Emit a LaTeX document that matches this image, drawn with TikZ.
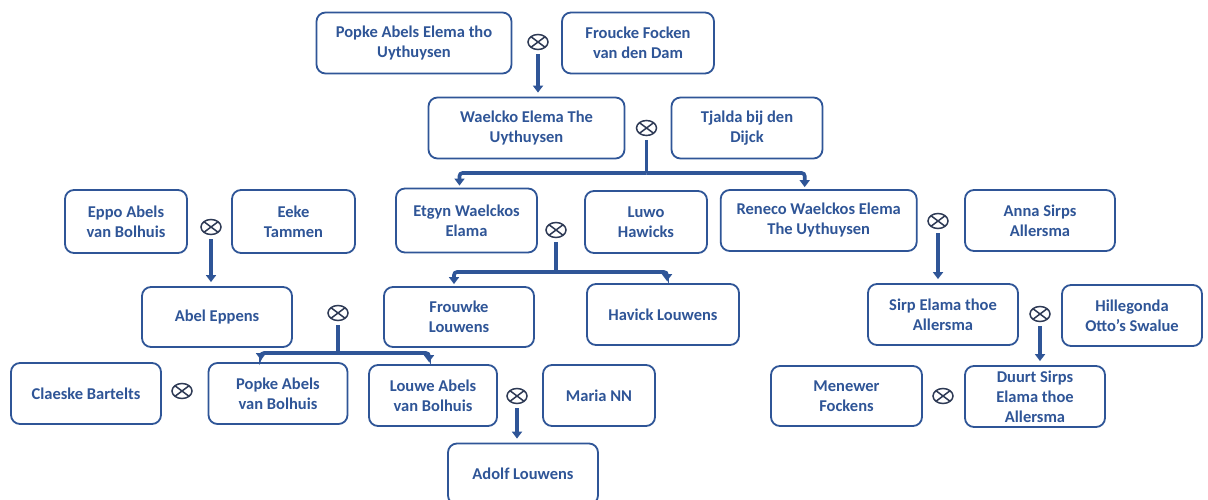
\documentclass[tikz,border=0pt]{standalone}
\usepackage{fontspec}
\setmainfont{Carlito}
\usetikzlibrary{arrows.meta, calc, positioning, shapes.geometric}
\definecolor{famblue}{HTML}{2F5597}
\definecolor{ringgray}{HTML}{2E3A55}

\begin{document}
\begin{tikzpicture}[x=1pt, y=-1pt,
  person/.style={draw=famblue, line width=1.8pt, rounded corners=9pt, align=center, text=famblue,
    font=\fontsize{16.5}{20}\selectfont\bfseries, minimum height=61pt, inner sep=1pt},
  wed/.style={ellipse, draw=ringgray, line width=1.5pt, minimum width=20pt, minimum height=15pt, inner sep=0pt,
    path picture={\draw[ringgray, line width=1.5pt]
      (path picture bounding box.north west) -- (path picture bounding box.south east)
      (path picture bounding box.north east) -- (path picture bounding box.south west);}},
  child/.style={draw=famblue, line width=3.6pt, -{Triangle[width=10pt,length=7pt]}, shorten <=4pt, shorten >=4pt},
  bar/.style={draw=famblue, line width=3.6pt, shorten <=4pt},
  drop/.style={draw=famblue, line width=3.6pt, rounded corners=3pt, -{Triangle[width=10pt,length=7pt]}, shorten >=2pt}]
\useasboundingbox[fill=white] (0,0) rectangle (1208,500);
% Nodes
\node (popke) [person, minimum width=195pt] at (414,43) {Popke Abels Elema tho\\Uythuysen};
\node (froucke) [person, minimum width=152pt] at (638,43) {Froucke Focken\\van den Dam};
\node (waelcko) [person, minimum width=196pt] at (526.5,128) {Waelcko Elema The\\Uythuysen};
\node (tjalda) [person, minimum width=151pt] at (747,128) {Tjalda bij den\\Dijck};
\node (eppo) [person, minimum width=122pt, minimum height=63pt] at (126,221.5) {Eppo Abels\\van Bolhuis};
\node (eeke) [person, minimum width=123pt, minimum height=63pt] at (293.5,221.5) {Eeke\\Tammen};
\node (etgyn) [person, minimum width=141pt, minimum height=64pt] at (466.5,220.5) {Etgyn Waelckos\\Elama};
\node (luwo) [person, minimum width=122pt, minimum height=62pt] at (646,222) {Luwo\\Hawicks};
\node (reneco) [person, minimum width=196pt] at (818.7,220.5) {Reneco Waelckos Elema\\The Uythuysen};
\node (anna) [person, minimum width=150pt] at (1040,220.5) {Anna Sirps\\Allersma};
\node (abel) [person, minimum width=150pt, minimum height=60pt] at (217,317) {Abel Eppens};
\node (frouwke) [person, minimum width=150pt, minimum height=60pt] at (459,317) {Frouwke\\Louwens};
\node (havick) [person, minimum width=152pt] at (663,314.5) {Havick Louwens};
\node (sirp) [person, minimum width=150pt] at (943,314.5) {Sirp Elama thoe\\Allersma};
\node (hillegonda) [person, minimum width=140pt] at (1132,315.5) {Hillegonda\\Otto’s Swalue};
\node (claeske) [person, minimum width=150pt] at (86,393.5) {Claeske Bartelts};
\node (popkeb) [person, minimum width=139pt] at (278,393.5) {Popke Abels\\van Bolhuis};
\node (louwe) [person, minimum width=128pt] at (433,395.5) {Louwe Abels\\van Bolhuis};
\node (maria) [person, minimum width=112pt] at (599,395.5) {Maria NN};
\node (adolf) [person, minimum width=150pt] at (523,474) {Adolf Louwens};
\node (menewer) [person, minimum width=151pt, minimum height=60pt] at (846.5,396) {Menewer\\Fockens};
\node (duurt) [person, minimum width=140pt] at (1035,396.5) {Duurt Sirps\\Elama thoe\\Allersma};
% Marriages
\node (m1) [wed] at (538,42) {};
\node (m2) [wed] at (646.5,128) {};
\node (m3) [wed] at (556,230) {};
\node (m4) [wed] at (938,221) {};
\node (m5) [wed] at (211,227) {};
\node (m6) [wed] at (338,313) {};
\node (m7) [wed] at (1040,314) {};
\node (m8) [wed] at (182,391) {};
\node (m9) [wed] at (517,396) {};
\node (m10) [wed] at (943,396) {};
% Junctions
\coordinate (j2) at (646.5,173);
\coordinate (j3) at (556,272);
\coordinate (j6) at (338,353);
% Arrows
\draw[child] (m1) -- (m1 |- waelcko.north);
\draw[child] (m4) -- (m4 |- sirp.north);
\draw[child] (m5) -- (m5 |- abel.north);
\draw[child] (m7) -- (m7 |- duurt.north);
\draw[child] (m9) -- (m9 |- adolf.north);
\draw[bar] (m2) -- (j2);
\draw[drop] (j2) -| ([xshift=-7pt]etgyn.north);
\draw[drop] (j2) -| ([xshift=-14pt]reneco.north);
\draw[bar] (m3) -- (j3);
\draw[drop] (j3) -| ([xshift=-5pt]frouwke.north);
\draw[drop] (j3) -| ([xshift=4pt]havick.north);
\draw[bar] (m6) -- (j6);
\draw[drop] (j6) -| ([xshift=-17pt]popkeb.north);
\draw[drop] (j6) -| ([xshift=-4pt]louwe.north);
\end{tikzpicture}
\end{document}
